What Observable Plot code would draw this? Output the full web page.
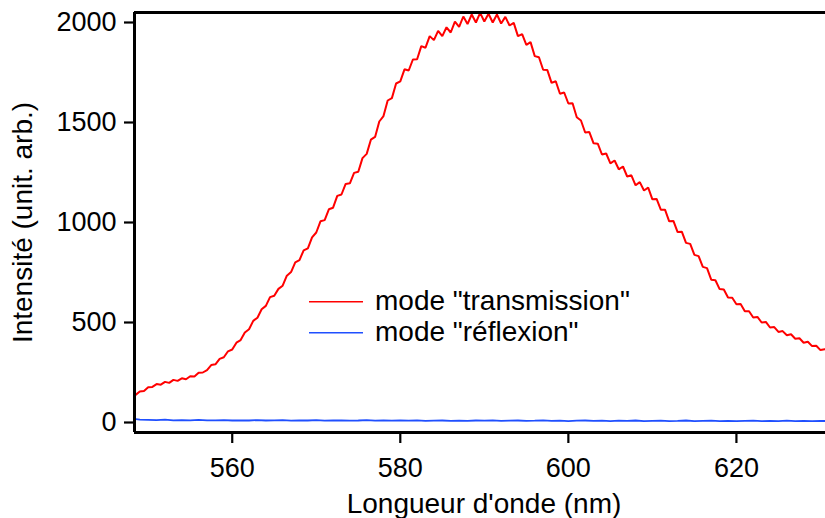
<!DOCTYPE html>
<html>
<head>
<meta charset="utf-8">
<script src="https://cdn.jsdelivr.net/npm/d3@7"></script>
<script src="https://cdn.jsdelivr.net/npm/@observablehq/plot@0.6"></script>
<style>
  html, body { margin: 0; padding: 0; background: #fff; }
  #chart { position: relative; width: 825px; height: 518px; }
</style>
</head>
<body>
<div id="chart"></div>
<script>
// Axis domains and ticks
const xDomain = [548.37, 630.6];
const yDomain = [-50, 2050];
const xTicks = [560, 580, 600, 620];
const yTicks = [0, 500, 1000, 1500, 2000];

// Series labels / colours
const seriesNames = ['mode "transmission"', 'mode "réflexion"'];
const seriesColors = ["#ff0000", "#1f4fff"];

// Red series: wavelength 548.0 .. 630.5 nm, step 0.5 nm
const redStart = 548.0, redStep = 0.5;
const redValues = [
  125, 138, 155, 157, 176, 178, 192, 189, 203, 198,
  213, 208, 221, 216, 231, 230, 249, 250, 262, 287,
  291, 318, 326, 356, 365, 399, 412, 450, 466, 508,
  524, 566, 583, 627, 634, 668, 684, 734, 752, 801,
  812, 861, 871, 926, 950, 1006, 1012, 1066, 1074, 1133,
  1140, 1193, 1196, 1248, 1254, 1322, 1343, 1414, 1428, 1505,
  1532, 1610, 1622, 1695, 1706, 1766, 1760, 1815, 1816, 1882,
  1874, 1932, 1912, 1958, 1932, 1976, 1950, 2004, 1978, 2030,
  1992, 2040, 2000, 2048, 2005, 2044, 2000, 2040, 1995, 2028,
  1985, 1998, 1932, 1942, 1888, 1902, 1832, 1826, 1764, 1762,
  1698, 1706, 1644, 1650, 1595, 1596, 1526, 1510, 1450, 1452,
  1396, 1394, 1340, 1345, 1296, 1310, 1266, 1280, 1230, 1236,
  1186, 1202, 1160, 1174, 1116, 1118, 1064, 1064, 1006, 1008,
  952, 954, 898, 893, 838, 832, 778, 772, 714, 711,
  667, 665, 625, 624, 591, 592, 556, 556, 525, 528,
  500, 503, 475, 477, 453, 457, 436, 441, 419, 421,
  399, 404, 382, 384, 362, 366
];

// Blue series: wavelength 548 .. 631 nm, step 1 nm
const blueStart = 548, blueStep = 1;
const blueValues = [
  20, 14, 13, 12, 14, 11, 12, 11, 13, 11,
  11, 12, 10, 11, 10, 12, 10, 11, 12, 9,
  11, 10, 12, 9, 10, 11, 9, 10, 12, 9,
  10, 9, 11, 9, 11, 8, 9, 10, 8, 9,
  8, 10, 9, 11, 8, 9, 10, 8, 9, 11,
  8, 9, 7, 9, 10, 8, 9, 7, 9, 8,
  10, 7, 8, 9, 7, 8, 10, 7, 8, 9,
  7, 8, 7, 8, 9, 7, 8, 7, 9, 7,
  8, 7, 8, 7
];

const red = redValues.map((v, i) => ({wl: redStart + i * redStep, v, s: seriesNames[0]}));
const blue = blueValues.map((v, i) => ({wl: blueStart + i * blueStep, v, s: seriesNames[1]}));

const FONT = "'Liberation Sans', Arial, Helvetica, sans-serif";

const chart = Plot.plot({
  width: 825,
  height: 518,
  marginLeft: 134,
  marginRight: 0,
  marginTop: 12,
  marginBottom: 86,
  style: {fontFamily: FONT, fontSize: "27px", color: "#000", background: "#fff", overflow: "visible"},
  x: {domain: xDomain},
  y: {domain: yDomain},
  marks: [
    Plot.line(red, {x: "wl", y: "v", stroke: seriesColors[0], strokeWidth: 2, strokeLinejoin: "miter", clip: true}),
    Plot.line(blue, {x: "wl", y: "v", stroke: seriesColors[1], strokeWidth: 1.8, clip: true}),
    Plot.ruleX([xDomain[0]], {stroke: "#000", strokeWidth: 3}),
    Plot.ruleY(yDomain, {stroke: "#000", strokeWidth: 3}),
    Plot.axisX({ticks: xTicks, tickSize: 11, tickPadding: 14, fontSize: 27, strokeWidth: 2.2, label: null, tickFormat: d3.format("d")}),
    Plot.axisY({ticks: yTicks, tickSize: 10, tickPadding: 8, fontSize: 27, strokeWidth: 2.2, label: null, tickFormat: d3.format("d")}),
    Plot.text(["Longueur d'onde (nm)"], {frameAnchor: "bottom", lineAnchor: "bottom", dx: 4, dy: 80, fontSize: 28, fill: "#000"}),
    Plot.text(["Intensité (unit. arb.)"], {frameAnchor: "left", rotate: -90, lineAnchor: "top", textAnchor: "middle", dx: -122, fontSize: 28, fill: "#000"})
  ]
});

document.getElementById("chart").appendChild(chart);

// Legend (line swatches + labels) drawn inside the plot area
const svg = d3.select(chart);
const leg = svg.append("g")
  .attr("font-family", FONT)
  .attr("font-size", 28)
  .attr("text-anchor", "start");
seriesNames.forEach((name, i) => {
  const yLine = 301.7 + i * 31;
  leg.append("line")
    .attr("x1", 309).attr("x2", 363)
    .attr("y1", yLine).attr("y2", yLine)
    .attr("stroke", seriesColors[i]).attr("stroke-width", 1.5);
  leg.append("text")
    .attr("x", 375).attr("y", 309.5 + i * 31.5)
    .attr("fill", "#000")
    .attr("text-anchor", "start")
    .text(name);
});
</script>
</body>
</html>
